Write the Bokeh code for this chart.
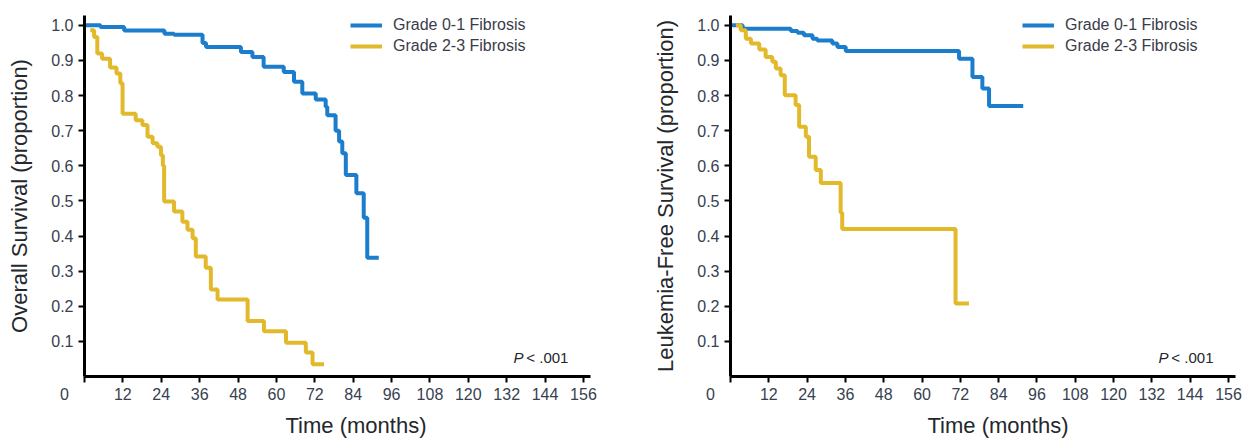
from bokeh.plotting import figure
from bokeh.layouts import row
from bokeh.models import (Legend, LegendItem, Label, FixedTicker, Range1d, Title,
                          PrintfTickFormatter)
from bokeh.embed import file_html
from bokeh.resources import INLINE

# ---------------- data ----------------
x_ticks = [0, 12, 24, 36, 48, 60, 72, 84, 96, 108, 120, 132, 144, 156]
y_ticks = [0.1, 0.2, 0.3, 0.4, 0.5, 0.6, 0.7, 0.8, 0.9, 1.0]

series_names = ["Grade 0-1 Fibrosis", "Grade 2-3 Fibrosis"]

# Overall survival
os_low_t = [0, 5, 12.4, 25, 28, 36.9, 38, 48.9, 52.5, 56, 62.3, 65.5, 68.1, 72.3, 75.4, 75.9,
            78.5, 79.6, 80.6, 81.7, 85, 87.3, 88.4, 92]
os_low_s = [1.0, 0.995, 0.985, 0.976, 0.973, 0.95, 0.938, 0.924, 0.91, 0.882, 0.867, 0.839,
            0.806, 0.789, 0.768, 0.744, 0.70, 0.669, 0.636, 0.574, 0.522, 0.452, 0.338, 0.338]

os_high_t = [1.8, 3, 4, 5.5, 8, 10, 11.2, 11.9, 16, 18.1, 19.7, 21.3, 22.8, 23.9, 24.5, 24.9,
             28, 30.6, 32.2, 33.8, 34.8, 37.9, 39.5, 41.6, 51, 56.1, 63, 69.2, 71.3, 74.9]
os_high_s = [0.986, 0.967, 0.92, 0.905, 0.88, 0.863, 0.835, 0.748, 0.73, 0.716, 0.683, 0.664,
             0.654, 0.63, 0.6, 0.498, 0.47, 0.441, 0.418, 0.394, 0.342, 0.31, 0.248, 0.219,
             0.158, 0.129, 0.096, 0.068, 0.035, 0.035]

# Leukemia-free survival
lfs_low_t = [0, 3.8, 18.9, 21, 23, 25.7, 27.2, 31.9, 33.5, 36.1, 71.6, 75.8, 78.9, 81, 91.7]
lfs_low_s = [1.0, 0.99, 0.984, 0.979, 0.972, 0.962, 0.957, 0.948, 0.938, 0.927, 0.905, 0.853,
             0.82, 0.77, 0.77]

lfs_high_t = [1.7, 3.2, 4.8, 6.4, 9, 11, 13.1, 14.2, 15.7, 17, 20.4, 21.5, 23.6, 24.6, 26.7,
              28.3, 34.5, 35, 70.5, 74.7]
lfs_high_s = [1.0, 0.986, 0.962, 0.948, 0.931, 0.91, 0.896, 0.877, 0.858, 0.801, 0.773, 0.711,
              0.683, 0.626, 0.588, 0.551, 0.466, 0.42, 0.208, 0.208]

p_text = "< .001"
x_title = "Time (months)"
zero_label = "0" + "\u00a0" * 9

# ---------------- style ----------------
BLUE = "#1b7dcc"
YELLOW = "#e3b92c"
FONT = "Liberation Sans"
TICK_COL = "#37414f"
LAB_COL = "#24272c"


def make(ylabel, t_low, s_low, t_high, s_high, width, bl, br, legend_x, title_off):
    p = figure(width=width, height=442, output_backend="svg", toolbar_location=None,
               x_range=Range1d(0, 158.2), y_range=Range1d(0, 1.028),
               min_border_left=bl, min_border_right=br, min_border_top=15,
               min_border_bottom=65)
    p.outline_line_color = None
    p.xgrid.visible = False
    p.ygrid.visible = False
    p.background_fill_color = "white"
    p.border_fill_color = "white"

    r1 = p.step(t_low, s_low, mode="after", line_color=BLUE, line_width=4)
    r2 = p.step(t_high, s_high, mode="after", line_color=YELLOW, line_width=4)

    for ax in (p.xaxis[0], p.yaxis[0]):
        ax.axis_line_color = "black"
        ax.axis_line_width = 3
        ax.major_tick_line_color = "black"
        ax.major_tick_line_width = 2
        ax.major_tick_in = 0
        ax.major_tick_out = 6
        ax.minor_tick_line_color = None
        ax.major_label_text_font = FONT
        ax.major_label_text_font_size = "16px"
        ax.major_label_text_color = TICK_COL
    p.yaxis.major_label_standoff = 5
    p.xaxis.major_label_standoff = 3

    p.xaxis.ticker = FixedTicker(ticks=x_ticks)
    p.xaxis.major_label_overrides = {0: zero_label}
    p.yaxis.ticker = FixedTicker(ticks=y_ticks)
    p.yaxis.formatter = PrintfTickFormatter(format="%.1f")
    p.yaxis.axis_label = ylabel
    p.yaxis.axis_label_text_font = FONT
    p.yaxis.axis_label_text_font_size = "22px"
    p.yaxis.axis_label_text_font_style = "normal"
    p.yaxis.axis_label_text_color = LAB_COL
    p.yaxis.axis_label_standoff = 16

    p.add_layout(Title(text=x_title, align="left", offset=title_off, standoff=10,
                       text_font=FONT, text_font_size="22px", text_font_style="normal",
                       text_color=LAB_COL), "below")

    p.add_layout(Label(x=134.1, y=0.0545, text="P", text_font=FONT, text_font_size="15px",
                       text_font_style="italic", text_color=LAB_COL, text_align="left",
                       text_baseline="middle"))
    p.add_layout(Label(x=151.3, y=0.0545, text=p_text, text_font=FONT,
                       text_font_size="15px", text_color=LAB_COL, text_align="right",
                       text_baseline="middle"))

    leg = Legend(items=[LegendItem(label=series_names[0], renderers=[r1]),
                        LegendItem(label=series_names[1], renderers=[r2])],
                 location=(legend_x, 320), orientation="vertical")
    leg.background_fill_alpha = 0
    leg.border_line_color = None
    leg.padding = 0
    leg.margin = 0
    leg.spacing = 1
    leg.glyph_width = 32
    leg.glyph_height = 20
    leg.label_height = 20
    leg.label_standoff = 11
    leg.label_text_font = FONT
    leg.label_text_font_size = "16px"
    leg.label_text_color = "#3a3d48"
    p.add_layout(leg, "center")
    return p


p1 = make("Overall Survival (proportion)", os_low_t, os_low_s, os_high_t, os_high_s,
          width=640, bl=84, br=50, legend_x=266, title_off=201)
p2 = make("Leukemia-Free Survival (proportion)", lfs_low_t, lfs_low_s, lfs_high_t, lfs_high_s,
          width=602, bl=90, br=7, legend_x=292, title_off=197)

layout = row(p1, p2)
open("out.html", "w").write(file_html(layout, INLINE))
